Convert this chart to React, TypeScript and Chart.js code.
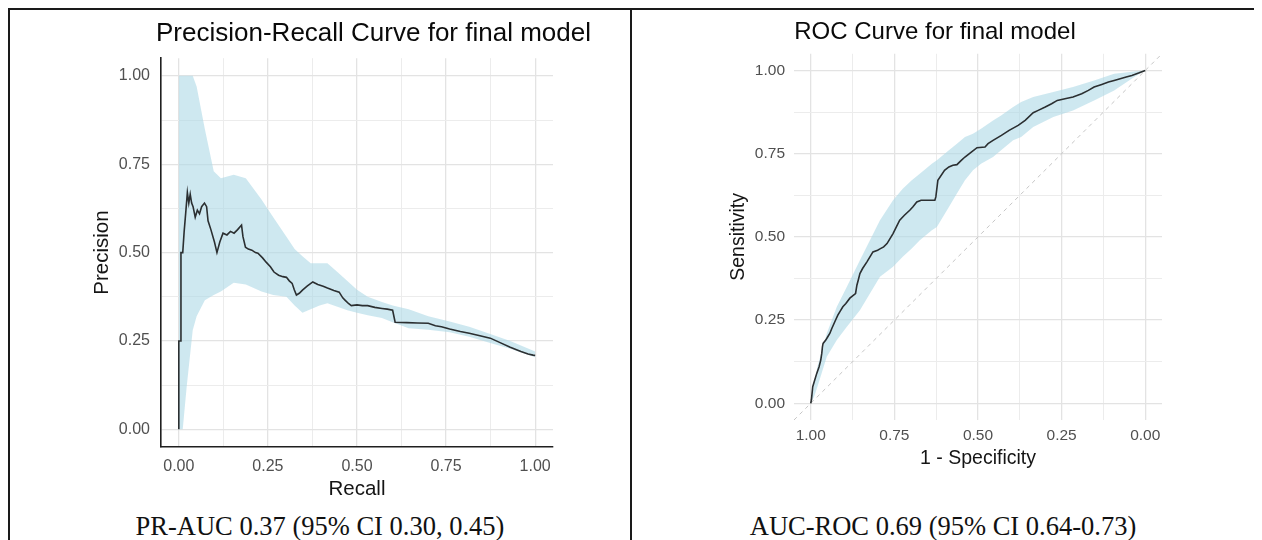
import React, { useEffect, useRef } from 'react';
import { Chart, registerables } from 'chart.js';

Chart.register(...registerables);

// ---------------- Data ----------------
// Precision-Recall curve (recall, precision)
const prRecall = [
  0.000, 0.000, 0.006, 0.006, 0.011, 0.015, 0.020, 0.024, 0.028, 0.032, 0.036, 0.040, 0.046, 0.052, 0.058,
  0.064, 0.072, 0.078, 0.082, 0.090, 0.100, 0.107, 0.115, 0.124, 0.135, 0.145, 0.155, 0.165, 0.176, 0.180,
  0.187, 0.195, 0.205, 0.215, 0.222, 0.235, 0.245, 0.257, 0.267, 0.280, 0.292, 0.302, 0.310, 0.318, 0.324,
  0.330, 0.338, 0.347, 0.360, 0.376, 0.390, 0.405, 0.417, 0.435, 0.450, 0.460, 0.467, 0.476, 0.484, 0.500,
  0.515, 0.530, 0.550, 0.570, 0.585, 0.600, 0.607, 0.640, 0.670, 0.700, 0.720, 0.737, 0.760, 0.790, 0.815,
  0.845, 0.874, 0.900, 0.930, 0.960, 0.980, 0.994, 1.000,
];
const prPrecision = [
  0.000, 0.250, 0.250, 0.500, 0.500, 0.560, 0.620, 0.670, 0.640, 0.665, 0.640, 0.630, 0.600, 0.620, 0.610,
  0.630, 0.640, 0.630, 0.590, 0.565, 0.530, 0.500, 0.530, 0.555, 0.550, 0.560, 0.555, 0.565, 0.578, 0.545,
  0.515, 0.510, 0.507, 0.500, 0.498, 0.485, 0.473, 0.460, 0.445, 0.436, 0.432, 0.430, 0.420, 0.413, 0.395,
  0.380, 0.385, 0.394, 0.405, 0.417, 0.410, 0.405, 0.400, 0.393, 0.388, 0.372, 0.365, 0.356, 0.350, 0.352,
  0.350, 0.350, 0.345, 0.342, 0.340, 0.337, 0.303, 0.302, 0.301, 0.300, 0.293, 0.290, 0.284, 0.277, 0.272,
  0.265, 0.258, 0.246, 0.232, 0.220, 0.213, 0.210, 0.209,
];
// PR confidence band
const prBandRecall = [
  0.000, 0.011, 0.022, 0.039, 0.050, 0.073, 0.098, 0.118, 0.154, 0.188, 0.232, 0.265, 0.302, 0.325, 0.347,
  0.370, 0.395, 0.417, 0.445, 0.473, 0.500, 0.530, 0.570, 0.600, 0.645, 0.700, 0.760, 0.815, 0.874, 0.930, 1.000,
];
const prBandUpper = [
  1.00, 1.00, 1.00, 1.00, 0.97, 0.85, 0.73, 0.71, 0.72, 0.71, 0.65, 0.60, 0.545, 0.51, 0.49,
  0.47, 0.47, 0.47, 0.445, 0.42, 0.395, 0.375, 0.36, 0.35, 0.34, 0.32, 0.305, 0.29, 0.27, 0.25, 0.22,
];
const prBandLower = [
  0.00, 0.00, 0.12, 0.28, 0.32, 0.365, 0.38, 0.39, 0.415, 0.41, 0.39, 0.38, 0.375, 0.35, 0.33,
  0.34, 0.35, 0.357, 0.347, 0.337, 0.33, 0.323, 0.315, 0.303, 0.286, 0.282, 0.275, 0.262, 0.244, 0.228, 0.204,
];

// ROC curve (specificity, sensitivity)
const rocSpecificity = [
  1.000, 0.998, 0.994, 0.988, 0.982, 0.975, 0.970, 0.967, 0.965, 0.963, 0.955, 0.949, 0.943, 0.937, 0.928,
  0.919, 0.910, 0.904, 0.895, 0.883, 0.872, 0.866, 0.862, 0.858, 0.853, 0.845, 0.832, 0.823, 0.814, 0.800,
  0.793, 0.782, 0.772, 0.763, 0.754, 0.744, 0.734, 0.720, 0.704, 0.695, 0.683, 0.670, 0.650, 0.629, 0.626,
  0.620, 0.600, 0.587, 0.575, 0.563, 0.550, 0.539, 0.520, 0.503, 0.479, 0.470, 0.455, 0.430, 0.407, 0.380,
  0.359, 0.335, 0.320, 0.299, 0.280, 0.263, 0.240, 0.216, 0.190, 0.170, 0.153, 0.130, 0.110, 0.093, 0.075,
  0.057, 0.040, 0.020, 0.000,
];
const rocSensitivity = [
  0.000, 0.010, 0.050, 0.070, 0.090, 0.110, 0.130, 0.150, 0.170, 0.180, 0.190, 0.200, 0.210, 0.225, 0.245,
  0.265, 0.280, 0.290, 0.300, 0.316, 0.325, 0.330, 0.355, 0.370, 0.390, 0.405, 0.425, 0.440, 0.455, 0.460,
  0.464, 0.470, 0.480, 0.495, 0.510, 0.530, 0.550, 0.565, 0.580, 0.590, 0.605, 0.610, 0.610, 0.610, 0.620,
  0.670, 0.700, 0.710, 0.715, 0.717, 0.730, 0.740, 0.755, 0.768, 0.770, 0.780, 0.790, 0.805, 0.820, 0.835,
  0.850, 0.873, 0.880, 0.890, 0.900, 0.910, 0.915, 0.920, 0.930, 0.940, 0.950, 0.958, 0.965, 0.970, 0.975,
  0.980, 0.985, 0.992, 1.000,
];
// ROC confidence band
const rocBandSpec = [
  1.000, 0.990, 0.980, 0.952, 0.922, 0.892, 0.853, 0.823, 0.793, 0.754, 0.725, 0.698, 0.674, 0.638, 0.623,
  0.587, 0.563, 0.539, 0.515, 0.491, 0.455, 0.431, 0.395, 0.371, 0.335, 0.275, 0.216, 0.153, 0.093, 0.033, 0.000,
];
const rocBandUpper = [
  0.00, 0.06, 0.11, 0.21, 0.29, 0.35, 0.43, 0.49, 0.55, 0.61, 0.645, 0.67, 0.69, 0.72, 0.73,
  0.76, 0.78, 0.80, 0.81, 0.825, 0.85, 0.865, 0.89, 0.905, 0.92, 0.935, 0.95, 0.97, 0.99, 0.997, 1.00,
];
const rocBandLower = [
  0.00, 0.02, 0.05, 0.14, 0.19, 0.23, 0.28, 0.33, 0.38, 0.41, 0.44, 0.465, 0.49, 0.52, 0.53,
  0.59, 0.63, 0.67, 0.70, 0.72, 0.74, 0.76, 0.79, 0.80, 0.83, 0.86, 0.88, 0.91, 0.94, 0.98, 1.00,
];

// Axes
const AXIS_MIN = -0.05;
const AXIS_MAX = 1.05;
const tickValues = [0, 0.125, 0.25, 0.375, 0.5, 0.625, 0.75, 0.875, 1];
const majorTicks = [0, 0.25, 0.5, 0.75, 1];
// chance diagonal spans the axis limits (sensitivity = 1 - specificity)
const diagSpec = [AXIS_MAX, AXIS_MIN];

const prTitle = 'Precision-Recall Curve for final model';
const rocTitle = 'ROC Curve for final model';
const prCaption = 'PR-AUC 0.37 (95% CI 0.30, 0.45)';
const rocCaption = 'AUC-ROC 0.69 (95% CI 0.64-0.73)';

// ---------------- Styling ----------------
const SANS = '"Liberation Sans", Arimo, Arial, sans-serif';
const SERIF = '"Liberation Serif", "Times New Roman", serif';
const BAND = 'rgba(173,216,230,0.6)';
const LINE = '#2b2f31';
const GRID_MAJOR = '#e3e3e3';
const GRID_MINOR = '#ececec';

const isMajor = (v: number) => majorTicks.some((m) => Math.abs(m - v) < 1e-9);

const shiftTitle = {
  id: 'shiftTitle',
  afterLayout(chart: any, _args: any, opts: any) {
    const tb = chart.titleBlock;
    if (tb && opts && opts.dx) {
      tb.left += opts.dx;
      tb.right += opts.dx;
    }
  },
};

function makeScale(o: {
  reverse?: boolean;
  width?: number;
  height?: number;
  tickPad: number;
  tickSize: number;
  title: string;
  titlePad: any;
  titleSize: number;
  border: boolean;
}) {
  return {
    type: 'linear',
    min: AXIS_MIN,
    max: AXIS_MAX,
    bounds: 'data',
    reverse: !!o.reverse,
    afterBuildTicks: (s: any) => {
      s.ticks = tickValues.map((v) => ({ value: v }));
    },
    afterFit: (s: any) => {
      if (o.width != null) s.width = o.width;
      if (o.height != null) s.height = o.height;
      s.paddingLeft = 0;
      s.paddingRight = 0;
      s.paddingTop = 0;
      s.paddingBottom = 0;
    },
    ticks: {
      autoSkip: false,
      maxRotation: 0,
      padding: o.tickPad,
      color: '#505050',
      font: { family: SANS, size: o.tickSize },
      callback: (v: any) => (isMajor(Number(v)) ? Number(v).toFixed(2) : ''),
    },
    grid: {
      drawTicks: false,
      color: (c: any) => (c.tick && isMajor(c.tick.value) ? GRID_MAJOR : GRID_MINOR),
      lineWidth: (c: any) => (c.tick && isMajor(c.tick.value) ? 1.3 : 1),
    },
    border: { display: o.border, color: '#1f1f1f', width: 1.6 },
    title: {
      display: true,
      text: o.title,
      color: '#151515',
      font: { family: SANS, size: o.titleSize },
      padding: o.titlePad,
    },
  };
}

function prConfig(): any {
  return {
    type: 'line',
    data: {
      datasets: [
        {
          data: prRecall.map((x, i) => ({ x, y: prPrecision[i] })),
          borderColor: LINE,
          borderWidth: 1.6,
          pointRadius: 0,
          fill: false,
          tension: 0,
        },
        {
          data: prBandRecall.map((x, i) => ({ x, y: prBandUpper[i] })),
          borderWidth: 0,
          borderColor: 'rgba(0,0,0,0)',
          backgroundColor: BAND,
          pointRadius: 0,
          fill: '+1',
          tension: 0,
        },
        {
          data: prBandRecall.map((x, i) => ({ x, y: prBandLower[i] })),
          borderWidth: 0,
          borderColor: 'rgba(0,0,0,0)',
          pointRadius: 0,
          fill: false,
          tension: 0,
        },
      ],
    },
    options: {
      animation: false,
      responsive: true,
      maintainAspectRatio: false,
      events: [],
      layout: { padding: { left: 0, right: 77, top: 0, bottom: 0 } },
      plugins: {
        legend: { display: false },
        tooltip: { enabled: false },
        title: {
          display: true,
          text: prTitle,
          color: '#0a0a0a',
          font: { family: SANS, size: 26, weight: 'normal' },
          padding: { top: 8, bottom: 9 },
        },
        shiftTitle: { dx: 92 },
      },
      scales: {
        x: makeScale({
          height: 63,
          tickPad: 10,
          tickSize: 16,
          title: 'Recall',
          titlePad: { top: 0, bottom: 8 },
          titleSize: 20.5,
          border: true,
        }),
        y: makeScale({
          width: 151,
          tickPad: 11,
          tickSize: 16,
          title: 'Precision',
          titlePad: { top: 80, bottom: 0 },
          titleSize: 20.5,
          border: true,
        }),
      },
    },
    plugins: [shiftTitle],
  };
}

function rocConfig(): any {
  return {
    type: 'line',
    data: {
      datasets: [
        {
          data: rocSpecificity.map((x, i) => ({ x, y: rocSensitivity[i] })),
          borderColor: LINE,
          borderWidth: 1.6,
          pointRadius: 0,
          fill: false,
          tension: 0,
        },
        {
          data: diagSpec.map((x) => ({ x, y: 1 - x })),
          borderColor: '#c6c6c6',
          borderWidth: 1,
          borderDash: [4, 4],
          pointRadius: 0,
          fill: false,
        },
        {
          data: rocBandSpec.map((x, i) => ({ x, y: rocBandUpper[i] })),
          borderWidth: 0,
          borderColor: 'rgba(0,0,0,0)',
          backgroundColor: BAND,
          pointRadius: 0,
          fill: '+1',
          tension: 0,
        },
        {
          data: rocBandSpec.map((x, i) => ({ x, y: rocBandLower[i] })),
          borderWidth: 0,
          borderColor: 'rgba(0,0,0,0)',
          pointRadius: 0,
          fill: false,
          tension: 0,
        },
      ],
    },
    options: {
      animation: false,
      responsive: true,
      maintainAspectRatio: false,
      events: [],
      layout: { padding: { left: 0, right: 92, top: 0, bottom: 0 } },
      plugins: {
        legend: { display: false },
        tooltip: { enabled: false },
        title: {
          display: true,
          text: rocTitle,
          color: '#0a0a0a',
          font: { family: SANS, size: 24, weight: 'normal' },
          padding: { top: 8, bottom: 7 },
        },
        shiftTitle: { dx: 38 },
      },
      scales: {
        x: makeScale({
          reverse: true,
          height: 90,
          tickPad: 6,
          tickSize: 15.5,
          title: '1 - Specificity',
          titlePad: { top: 0, bottom: 40 },
          titleSize: 19.5,
          border: false,
        }),
        y: makeScale({
          width: 162,
          tickPad: 9,
          tickSize: 15.5,
          title: 'Sensitivity',
          titlePad: { top: 95, bottom: 0 },
          titleSize: 19.5,
          border: false,
        }),
      },
    },
    plugins: [shiftTitle],
  };
}

function ChartBox({ make, style }: { make: () => any; style: React.CSSProperties }) {
  const ref = useRef<HTMLCanvasElement | null>(null);
  useEffect(() => {
    if (!ref.current) return;
    const chart = new Chart(ref.current, make());
    return () => chart.destroy();
  }, [make]);
  return (
    <div style={style}>
      <canvas ref={ref} />
    </div>
  );
}

const captionStyle: React.CSSProperties = {
  position: 'absolute',
  top: 501,
  height: 30,
  lineHeight: '30px',
  fontFamily: SERIF,
  fontSize: 26.5,
  color: '#111',
  textAlign: 'center',
  whiteSpace: 'nowrap',
};

export default function App() {
  return (
    <div
      style={{
        position: 'relative',
        width: 1248,
        height: 532,
        boxSizing: 'border-box',
        borderTop: '2px solid #1a1a1a',
        borderLeft: '2px solid #1a1a1a',
        borderRight: '2px solid #1a1a1a',
        background: '#ffffff',
      }}
    >
      <div style={{ position: 'absolute', left: 620, top: 0, bottom: 0, width: 2, background: '#1a1a1a' }} />
      <ChartBox make={prConfig} style={{ position: 'absolute', left: 0, top: 0, width: 620, height: 500 }} />
      <ChartBox make={rocConfig} style={{ position: 'absolute', left: 622, top: 0, width: 622, height: 500 }} />
      <div style={{ ...captionStyle, left: 0, width: 620 }}>{prCaption}</div>
      <div style={{ ...captionStyle, left: 622, width: 622 }}>{rocCaption}</div>
    </div>
  );
}
